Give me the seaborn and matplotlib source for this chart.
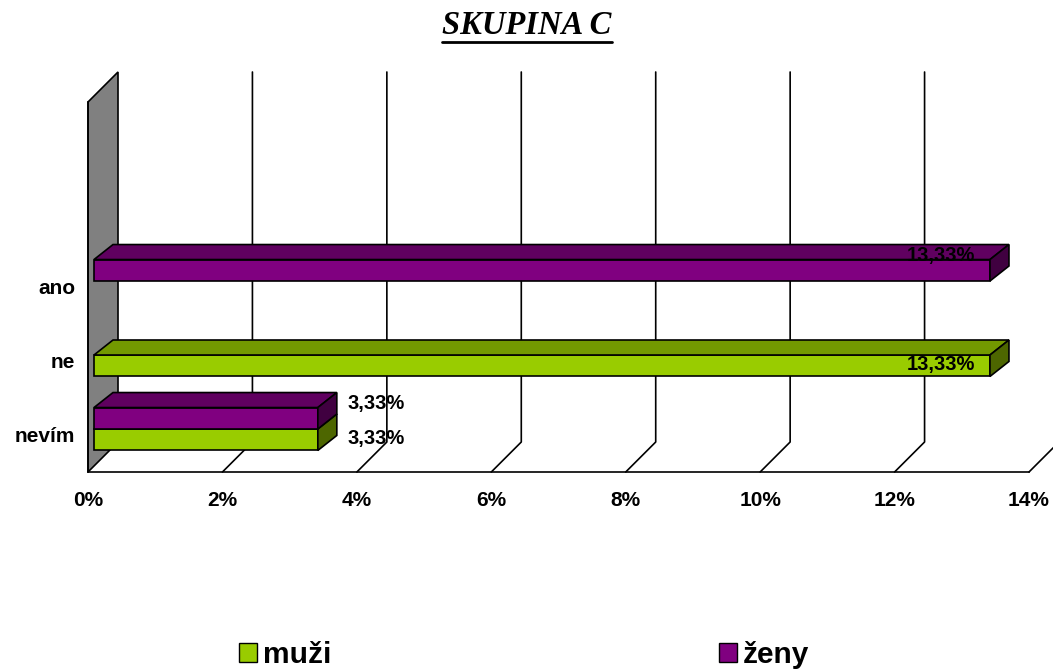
import pandas as pd
import matplotlib.pyplot as plt
import matplotlib.transforms as mtransforms
from matplotlib.patches import Polygon, Patch
from matplotlib.lines import Line2D
import seaborn as sns

# --- data ---
categories = ["ano", "ne", "nevím"]
muzi = [0.0, 13.33, 3.33]
zeny = [13.33, 0.0, 3.33]
value_labels = {"muži": ["", "13,33%", "3,33%"], "ženy": ["13,33%", "", "3,33%"]}
xticks = [0, 2, 4, 6, 8, 10, 12, 14]
xtick_labels = [f"{t}%" for t in xticks]

colors = {"muži": "#99CC00", "ženy": "#800080"}
top_colors = {"muži": "#739900", "ženy": "#600060"}
side_colors = {"muži": "#4D6600", "ženy": "#400040"}

df = pd.DataFrame({
    "kategorie": categories * 2,
    "pohlavi": ["muži"] * 3 + ["ženy"] * 3,
    "podil": muzi + zeny,
})

sns.set_style("white")
plt.rcParams["font.family"] = ["Liberation Sans", "DejaVu Sans"]
plt.rcParams["text.color"] = "black"
plt.rcParams["xtick.color"] = "black"
plt.rcParams["ytick.color"] = "black"

W, H = 1053, 670
fig = plt.figure(figsize=(W / 100, H / 100), dpi=100)
ax = fig.add_axes([88 / W, (H - 472) / H, 941 / W, 370 / H])

sns.barplot(data=df, y="kategorie", x="podil", hue="pohlavi",
            order=categories, hue_order=["ženy", "muži"], palette=colors,
            saturation=1, width=0.58, edgecolor="black", linewidth=1.2,
            orient="h", legend=False, ax=ax)

ax.set_xlim(0, 14)
ax.set_ylim(2.5, -2.5)

# pixel -> data conversion for the fake 3D depth
px_x = 14 / 941
px_y = 5 / 370
wall_dx, wall_dy = 30 * px_x, 30 * px_y
bar_dx, bar_dy = 19 * px_x, 15 * px_y

# bars sit a bit behind the front plane
shift = ax.transData + mtransforms.ScaledTranslation(0.06, 0.06, fig.dpi_scale_trans)

# --- side wall ---
wall = Polygon([(0, 2.5), (wall_dx, 2.5 - wall_dy), (wall_dx, -2.5 - wall_dy), (0, -2.5)],
               closed=True, facecolor="#808080", edgecolor="black", lw=1.2,
               clip_on=False, zorder=1)
ax.add_patch(wall)

# --- gridlines on back wall + floor diagonals ---
for t in xticks[1:]:
    ax.add_line(Line2D([t, t + wall_dx, t + wall_dx],
                       [2.5, 2.5 - wall_dy, -2.5 - wall_dy],
                       color="black", lw=1.2, clip_on=False, zorder=1))

# --- 3D faces of the bars (lower bars first, upper bars cover them) ---
hue_for_patch = []
for hue in ["ženy", "muži"]:
    hue_for_patch += [hue] * len(categories)

for p, hue in zip(ax.patches, hue_for_patch):
    z = 4 if hue == "ženy" else 3
    p.set_transform(shift)
    p.set_zorder(z)
    w = p.get_width()
    if w <= 0:
        p.set_visible(False)
        continue
    x0, y0, h = p.get_x(), p.get_y(), p.get_height()
    x1 = x0 + w
    top = Polygon([(x0, y0), (x1, y0), (x1 + bar_dx, y0 - bar_dy), (x0 + bar_dx, y0 - bar_dy)],
                  closed=True, facecolor=top_colors[hue], edgecolor="black", lw=1.2,
                  transform=shift, clip_on=False, zorder=z)
    side = Polygon([(x1, y0), (x1 + bar_dx, y0 - bar_dy), (x1 + bar_dx, y0 + h - bar_dy), (x1, y0 + h)],
                   closed=True, facecolor=side_colors[hue], edgecolor="black", lw=1.2,
                   transform=shift, clip_on=False, zorder=z)
    ax.add_patch(top)
    ax.add_patch(side)

# --- value labels ---
for hue, vals in [("muži", muzi), ("ženy", zeny)]:
    off_y = 0.145 if hue == "muži" else -0.145
    up = 7 if hue == "muži" else 21
    for i, (v, lab) in enumerate(zip(vals, value_labels[hue])):
        if not lab:
            continue
        if v > 10:
            ax.annotate(lab, (v, i + off_y), xytext=(-9 * 0.72, up * 0.72),
                        textcoords="offset points", ha="right", va="center",
                        fontsize=14.5, fontweight="bold", color="black", zorder=6)
        else:
            ax.annotate(lab, (v, i + off_y), xytext=(36 * 0.72, up * 0.72),
                        textcoords="offset points", ha="left", va="center",
                        fontsize=14.5, fontweight="bold", color="black", zorder=6)

# --- axes styling ---
for s in ["top", "right"]:
    ax.spines[s].set_visible(False)
for s in ["left", "bottom"]:
    ax.spines[s].set_color("black")
    ax.spines[s].set_linewidth(1.2)
    ax.spines[s].set_zorder(2)

ax.set_xticks(xticks)
ax.set_xticklabels(xtick_labels, fontsize=15, fontweight="bold")
ax.tick_params(axis="x", direction="out", length=4.5, width=1.2, pad=9)

ax.set_yticks([-2.5, -1.5, -0.5, 0.5, 1.5, 2.5])
ax.set_yticklabels([""] * 6)
ax.tick_params(axis="y", which="major", direction="out", length=4.5, width=1.2)
ax.set_yticks(range(len(categories)), minor=True)
ax.set_yticklabels(categories, minor=True, fontsize=15, fontweight="bold")
ax.tick_params(axis="y", which="minor", length=0, pad=9)
ax.set_xlabel("")
ax.set_ylabel("")
ax.grid(False)
ax.set_facecolor("none")

# --- title with underline ---
title = fig.text(527 / W, 1 - 25 / H, "SKUPINA C", ha="center", va="center",
                 family=["Liberation Serif", "DejaVu Serif"], fontsize=23.5,
                 fontweight="bold", fontstyle="italic", color="black")
renderer = fig.canvas.get_renderer()
bb = title.get_window_extent(renderer)
fig.add_artist(Line2D([bb.x0 / W, bb.x1 / W], [(bb.y0 - 1) / H, (bb.y0 - 1) / H],
                      color="black", lw=2, transform=fig.transFigure))

# --- legend ---
handles = [Patch(facecolor=colors["muži"], edgecolor="black", label="muži"),
           Patch(facecolor=colors["ženy"], edgecolor="black", label="ženy")]
fig.legend(handles=handles, loc="center", bbox_to_anchor=(524 / W, 15 / H), ncol=2,
           frameon=False, prop=dict(weight="bold", size=21.5), handlelength=0.6,
           handleheight=0.6, handletextpad=0.2, columnspacing=13.0)

fig.savefig("out.png", dpi=100)
